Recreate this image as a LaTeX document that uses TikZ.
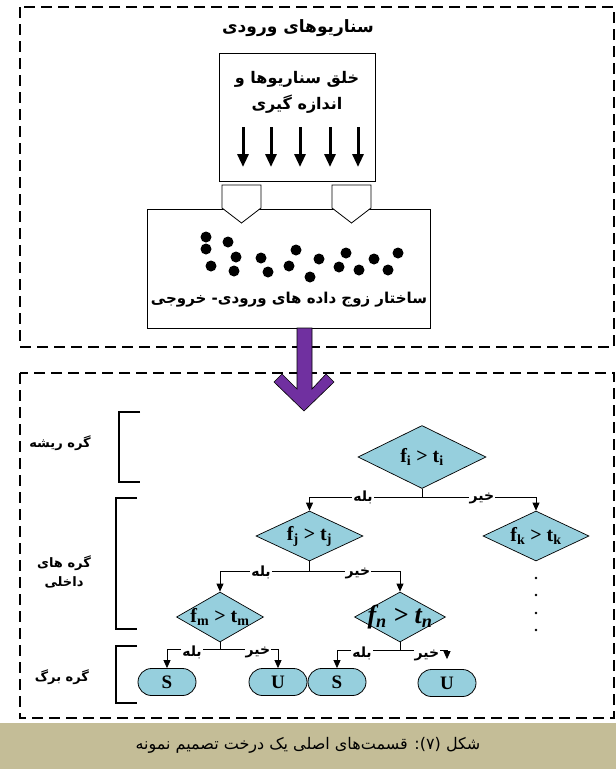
\documentclass[tikz,border=0pt]{standalone}
\usepackage{fontspec}
\setmainfont{Liberation Serif}
\newfontfamily\fa[Script=Arabic]{DejaVu Sans}
\TeXXeTstate=1
\usetikzlibrary{shapes.geometric,shapes.misc,arrows.meta}
\definecolor{diafill}{RGB}{150,207,221}
\definecolor{purp}{RGB}{112,48,160}
\definecolor{band}{RGB}{196,189,151}
\newcommand{\rl}[1]{\beginR #1\endR}
\begin{document}
\begin{tikzpicture}[x=1pt,y=-1pt,
  frame/.style={dash pattern=on 11pt off 6pt, line width=1.4pt},
  boxn/.style={draw, line width=0.8pt, fill=white, inner sep=0pt},
  dia/.style={diamond, draw, line width=0.7pt, fill=diafill, inner sep=0pt},
  dtext/.style={inner sep=0pt, font=\bfseries\fontsize{20}{20}\selectfont},
  leaf/.style={rounded rectangle, draw, line width=0.8pt, fill=diafill, minimum width=58pt, minimum height=27pt, inner sep=0pt, font=\bfseries\fontsize{19}{19}\selectfont},
  conn/.style={line width=0.8pt},
  arr/.style={conn, -{Triangle[length=8pt,width=7pt]}},
  bigarr/.style={line width=3pt, -{Triangle[length=13pt,width=11pt]}},
  yn/.style={fill=white, inner sep=1pt, font=\fa\bfseries\fontsize{14}{14}\selectfont},
  lab/.style={align=center, inner sep=0pt, font=\fa\bfseries\fontsize{13}{19}\selectfont},
  brk/.style={line width=1.4pt},
  pent/.style={draw, line width=0.8pt, fill=white}
]
\useasboundingbox (0,0) rectangle (616,769);
% frames
\draw[frame] (20,7) rectangle (614,347);
\draw[frame] (20,373) rectangle (614,718);
\fill[band] (0,723) rectangle (616,769);
\node[font=\fa\fontsize{16}{16}\selectfont] (cap) at (308,745) {\rl{شکل (۷): قسمت‌های اصلی یک درخت تصمیم نمونه}};
% top part
\node[lab, font=\fa\bfseries\fontsize{17}{17}\selectfont] (title) at (298,28) {\rl{سناریوهای ورودی}};
\node[boxn, minimum width=156pt, minimum height=128pt] (gen) at (297,117) {};
\node[lab, font=\fa\bfseries\fontsize{16}{26}\selectfont] (gent) at (297,92) {\rl{خلق سناریوها و}\\\rl{اندازه گیری}};
\foreach \xx in {243,271,300,330,358}{
  \draw[bigarr] (\xx,127) -- (\xx,167);
}
\node[boxn, minimum width=283pt, minimum height=119pt] (data) at (288.5,268.5) {};
\draw[pent] (222,185) -- (261,185) -- (261,208) -- (241.5,223) -- (222,208) -- cycle;
\draw[pent] (332,185) -- (371,185) -- (371,208) -- (351.5,223) -- (332,208) -- cycle;
\foreach \px/\py in {206/237,206/249,211/266,228/242,236/257,234/271,261/258,268/272,296/250,289/266,319/259,310/277,346/253,339/267,359/270,374/259,398/253,388/270}{
  \fill (\px,\py) circle[radius=5.5pt];
}
\node[lab, font=\fa\bfseries\fontsize{15}{15}\selectfont] (datat) at (289,300) {\rl{ساختار زوج داده های ورودی- خروجی}};
% purple arrow
\draw[line width=0.6pt, fill=purp] (297,328) -- (297,389) -- (282,374) -- (274,382) -- (304,411) -- (334,382) -- (326,374) -- (312,389) -- (312,328) -- cycle;
% brackets and labels
\draw[brk] (140,412) -- (119,412) -- (119,482) -- (140,482);
\draw[brk] (137,498) -- (116,498) -- (116,629) -- (137,629);
\draw[brk] (137,646) -- (116,646) -- (116,703) -- (137,703);
\node[lab] (l1) at (60,443) {\rl{گره ریشه}};
\node[lab] (l2) at (64,572) {\rl{گره های}\\\rl{داخلی}};
\node[lab] (l3) at (62,677) {\rl{گره برگ}};
% diamonds
\node[dia, minimum width=128pt, minimum height=63pt] (root) at (422,457) {};
\node[dtext] (roott) at (root.center) {f\textsubscript{i} > t\textsubscript{i}};
\node[dia, minimum width=107pt, minimum height=50pt] (fj) at (309.5,536) {};
\node[dtext] (fjt) at (fj.center) {f\textsubscript{j} > t\textsubscript{j}};
\node[dia, minimum width=106pt, minimum height=50pt] (fk) at (536,536) {};
\node[dtext] (fkt) at (fk.center) {f\textsubscript{k} > t\textsubscript{k}};
\node[dia, minimum width=87pt, minimum height=50pt] (fm) at (220,617) {};
\node[dtext] (fmt) at (fm.center) {f\textsubscript{m} > t\textsubscript{m}};
\node[dia, minimum width=91pt, minimum height=50pt] (fn) at (400,617) {};
\node[dtext, font=\bfseries\itshape\fontsize{26}{26}\selectfont] (fnt) at (fn.center) {f\textsubscript{n} > t\textsubscript{n}};
% leaves
\node[leaf] (s1) at (167,682) {S};
\node[leaf] (u1) at (278,682) {U};
\node[leaf] (s2) at (337,682) {S};
\node[leaf] (u2) at (447,683) {U};
% connectors
\coordinate (rb) at ([yshift=-9pt]root.south);
\draw[conn] (root.south) -- (rb);
\draw[arr] (rb) -| (fj.north);
\draw[arr] (rb) -| (fk.north);
\node[yn] at (363,497) {بله};
\node[yn] at (482,498) {خیر};
\coordinate (jb) at ([yshift=-10pt]fj.south);
\draw[conn] (fj.south) -- (jb);
\draw[arr] (jb) -| (fm.north);
\draw[arr] (jb) -| (fn.north);
\node[yn] at (261,572) {بله};
\node[yn] at (358,573) {خیر};
\coordinate (mb) at ([yshift=-7pt]fm.south);
\draw[conn] (fm.south) -- (mb);
\draw[arr] (mb) -| (s1.north);
\draw[arr] (mb) -| (u1.north);
\node[yn] at (192,652) {بله};
\node[yn] at (258,652) {خیر};
\coordinate (nb) at ([yshift=-8pt]fn.south);
\coordinate (u2e) at ([yshift=10pt]u2.north);
\draw[conn] (fn.south) -- (nb);
\draw[arr] (nb) -| (s2.north);
\draw[arr] (nb) -| (u2e);
\node[yn] at (362,653) {بله};
\node[yn] at (427,655) {خیر};
% continuation dots
\foreach \dy in {578,595,613,630}{
  \fill (536,\dy) circle[radius=1.3pt];
}
\end{tikzpicture}
\end{document}
